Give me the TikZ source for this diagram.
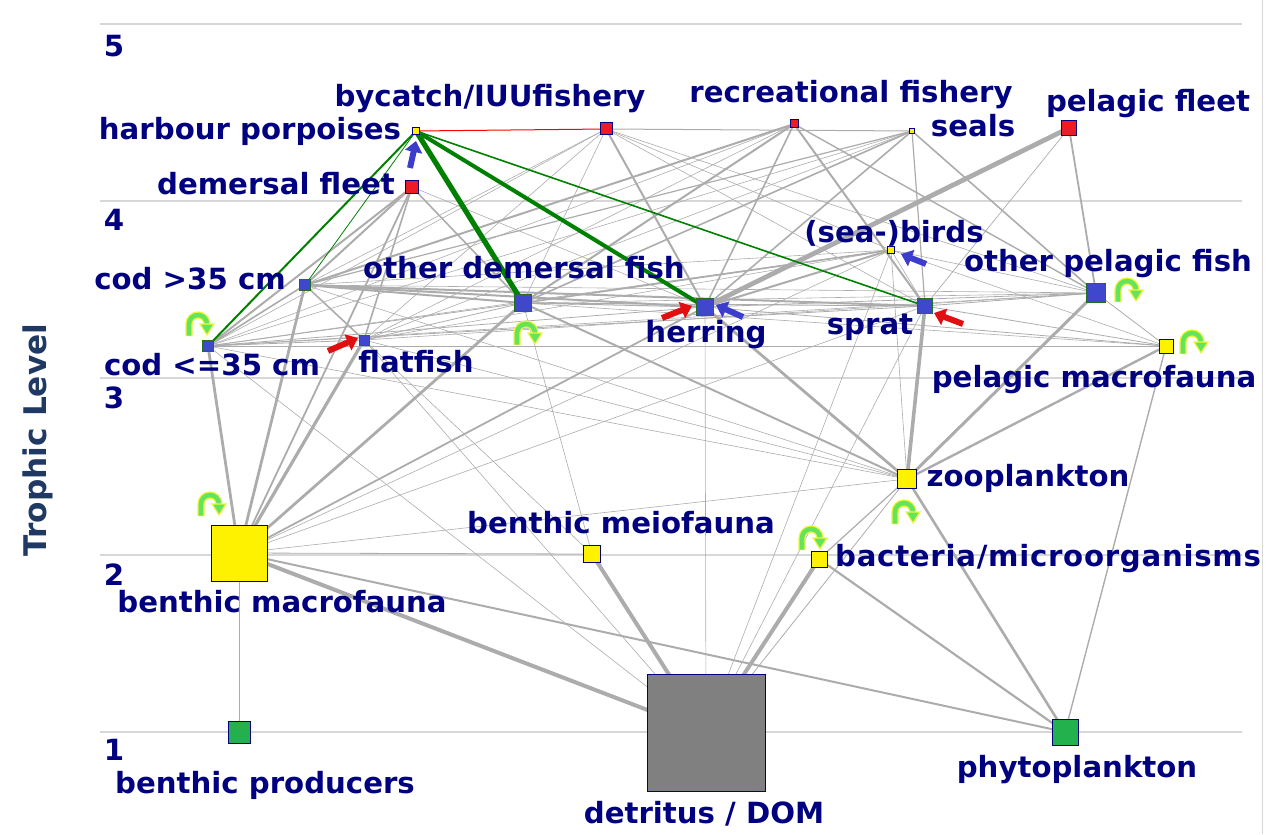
\documentclass[tikz,border=0pt]{standalone}
\usepackage{fontspec}
\setmainfont{DejaVu Sans}
\usetikzlibrary{arrows.meta}
\definecolor{navy}{RGB}{0,0,128}
\definecolor{axisblue}{RGB}{31,56,100}
\definecolor{fishblue}{RGB}{63,72,204}
\definecolor{fishedge}{RGB}{34,110,34}
\definecolor{fleetred}{RGB}{237,28,36}
\definecolor{nyellow}{RGB}{255,242,0}
\definecolor{ngreen}{RGB}{34,177,76}
\definecolor{ngray}{RGB}{128,128,128}
\definecolor{edgegray}{RGB}{172,172,172}
\definecolor{gridgray}{RGB}{215,215,215}
\definecolor{webgreen}{RGB}{0,128,0}
\definecolor{loopgreen}{RGB}{100,228,90}
\definecolor{loopyellow}{RGB}{238,245,60}
\definecolor{arrowblue}{RGB}{60,60,205}
\definecolor{arrowred}{RGB}{225,15,15}
\pgfdeclarelayer{bg}
\pgfsetlayers{bg,main}
\tikzset{
  sq/.style={draw=navy, fill=#1, line width=0.5pt, inner sep=0pt, shape=rectangle},
  fish/.style={draw=fishedge, fill=fishblue, line width=0.5pt, inner sep=0pt, shape=rectangle},
  lab/.style={text=navy, font=\bfseries\fontsize{14.6}{16}\selectfont, inner sep=0pt, anchor=mid},
  lvl/.style={text=navy, font=\bfseries\fontsize{14.6}{16}\selectfont, inner sep=0pt},
  gridline/.style={draw=gridgray, line width=0.6pt},
  web/.style={draw=edgegray},
  greenedge/.style={draw=webgreen},
  barrow/.style={draw=arrowblue, line width=3pt, -{Triangle[length=5.5pt,width=8.5pt]}},
  rarrow/.style={draw=arrowred, line width=3pt, -{Triangle[length=5.5pt,width=8.5pt]}},
  selfloop/.pic={
    \draw[loopyellow, line width=3.6pt] (-11,13) -- (-11,1) arc[start angle=180,end angle=360,radius=9];
    \draw[loopgreen, line width=2.3pt] (-11,12.5) -- (-11,1) arc[start angle=180,end angle=360,radius=9];
    \filldraw[fill=loopgreen, draw=loopyellow, line width=0.6pt] (0,1) -- (14,1) -- (7,12) -- cycle;
  }
}
\begin{document}
\begin{tikzpicture}[x=0.5pt,y=-0.5pt]
\useasboundingbox (0,0) rectangle (1272,834);

% ---------- nodes ----------
\node[sq=nyellow, minimum size=3.5pt] (hp) at (416,131) {};
\node[sq=fleetred, minimum size=6pt] (by) at (606,129) {};
\node[sq=fleetred, minimum size=4pt] (rf) at (794,124) {};
\node[sq=nyellow, minimum size=2.5pt] (se) at (912,131) {};
\node[sq=fleetred, minimum size=7.5pt] (pf) at (1069,128) {};
\node[sq=fleetred, minimum size=6.5pt] (df) at (412,187) {};
\node[sq=nyellow, minimum size=3.5pt] (bi) at (891,250) {};
\node[fish, minimum size=9.5pt] (opf) at (1096,293) {};
\node[fish, minimum size=5.5pt] (cb) at (305,285) {};
\node[fish, minimum size=8.5pt] (odf) at (523,303) {};
\node[fish, minimum size=8.5pt] (he) at (705,307) {};
\node[fish, minimum size=7.5pt] (sp) at (925,306) {};
\node[fish, minimum size=5.5pt] (cs) at (208,346) {};
\node[fish, minimum size=5pt] (ff) at (364,340) {};
\node[sq=nyellow, minimum size=7pt] (pm) at (1166,346) {};
\node[sq=nyellow, minimum size=9.5pt] (zo) at (907,479) {};
\node[sq=nyellow, minimum size=28pt] (bm) at (239,553) {};
\node[sq=nyellow, minimum size=8.5pt] (me) at (592,554) {};
\node[sq=nyellow, minimum size=8pt] (ba) at (819,559) {};
\node[sq=ngreen, minimum size=11pt] (bp) at (239,732) {};
\node[sq=ngray, minimum width=59pt, minimum height=58.5pt] (de) at (706,732.5) {};
\node[sq=ngreen, minimum size=13pt] (ph) at (1065,732) {};

% ---------- grid, edges ----------
\begin{pgfonlayer}{bg}
\coordinate (gl5) at (100,24);  \coordinate (gr5) at (1242,24);
\coordinate (gl4) at (100,201); \coordinate (gr4) at (1242,201);
\coordinate (gl3) at (100,378); \coordinate (gr3) at (1242,378);
\coordinate (gl2) at (100,555); \coordinate (gr2) at (1242,555);
\coordinate (gl1) at (100,732); \coordinate (gr1) at (1242,732);
\foreach \i in {1,...,5} {\draw[gridline] (gl\i) -- (gr\i);}
\coordinate (vt) at (1262,0); \coordinate (vb) at (1262,834);
\draw[gridline, line width=0.5pt] (vt) -- (vb);

\foreach \a/\b/\w in {
  by/cs/0.3pt, by/cb/0.3pt, by/ff/0.3pt, by/odf/0.3pt, by/he/1pt, by/sp/0.3pt, by/opf/0.3pt, by/se/0.5pt, by/bi/0.3pt,
  rf/cb/1pt, rf/cs/0.3pt, rf/ff/0.3pt, rf/odf/1pt, rf/he/0.8pt, rf/sp/1pt, rf/opf/0.7pt,
  se/cb/0.6pt, se/cs/0.3pt, se/ff/0.3pt, se/odf/0.8pt, se/he/0.8pt, se/sp/0.6pt, se/opf/0.8pt,
  pf/he/2.4pt, pf/sp/0.35pt, pf/opf/0.9pt,
  df/cs/1pt, df/cb/1pt, df/ff/0.8pt, df/odf/0.8pt, df/bm/0.9pt, df/he/0.3pt,
  bi/cs/0.3pt, bi/cb/0.3pt, bi/odf/0.8pt, bi/he/1pt, bi/sp/0.3pt, bi/opf/0.3pt, bi/zo/0.3pt, bi/bm/0.3pt, bi/pm/0.3pt, bi/ff/0.3pt,
  opf/he/0.4pt, opf/sp/0.4pt, opf/zo/1.5pt, opf/pm/0.4pt, opf/odf/0.3pt, opf/cs/0.3pt, opf/ff/0.3pt, opf/cb/0.3pt,
  cb/cs/0.8pt, cb/ff/0.8pt, cb/he/1pt, cb/sp/1pt, cb/odf/1pt, cb/bm/1.4pt, cb/zo/0.3pt,
  odf/bm/1.4pt, odf/cs/0.4pt, odf/ff/0.4pt, odf/he/0.5pt, odf/sp/0.5pt, odf/zo/1pt, odf/me/0.3pt, odf/pm/0.3pt,
  he/zo/1.4pt, he/pm/0.4pt, he/bm/0.9pt, he/de/0.3pt,
  sp/zo/1.8pt, sp/pm/0.4pt, sp/de/0.3pt, sp/bm/0.3pt,
  cs/bm/1.4pt, cs/ff/0.4pt, cs/he/0.4pt, cs/sp/0.4pt, cs/zo/0.3pt, cs/de/0.3pt, cs/pm/0.3pt,
  ff/bm/1.6pt, ff/me/0.3pt, ff/de/0.3pt, ff/zo/0.3pt,
  pm/zo/1.2pt, pm/ph/0.7pt,
  zo/ph/1.3pt, zo/ba/0.6pt, zo/de/0.4pt, zo/bm/0.3pt,
  bm/de/2pt, bm/ph/1pt, bm/bp/0.35pt, bm/me/0.4pt,
  me/de/2pt, ba/de/2pt, ba/ph/1.1pt, bi/de/0.3pt}
  {\draw[web, line width=\w] (\a.center) -- (\b.center);}

\draw[greenedge, line width=1pt] (hp.center) -- (cs.center);
\draw[greenedge, line width=0.4pt] (hp.center) -- (cb.center);
\draw[greenedge, line width=2.6pt] (hp.center) -- (odf.center);
\draw[greenedge, line width=2pt] (hp.center) -- (he.center);
\draw[greenedge, line width=0.8pt] (hp.center) -- (sp.center);
\draw[red, line width=0.5pt] (hp.center) -- (by.center);
\end{pgfonlayer}

% ---------- level numbers and axis label ----------
\node[lvl] (n5) at (114,46) {5};
\node[lvl] (n4) at (114,220) {4};
\node[lvl] (n3) at (114,398) {3};
\node[lvl] (n2) at (114,575) {2};
\node[lvl] (n1) at (114,750) {1};
\node[text=axisblue, font=\bfseries\fontsize{15.6}{17}\selectfont, rotate=90, inner sep=0pt] (ax) at (38,440) {Trophic Level};

% ---------- labels ----------
\node[lab] (lby) at (490,101) {bycatch/IUUfishery};
\node[lab] (lhp) at (250,134) {harbour porpoises};
\node[lab] (lrf) at (851,97) {recreational fishery};
\node[lab] (lse) at (973,131) {seals};
\node[lab] (lpf) at (1148,106) {pelagic fleet};
\node[lab] (ldf) at (276,189) {demersal fleet};
\node[lab] (lbi) at (894,237) {(sea-)birds};
\node[lab] (lopf) at (1108,266) {other pelagic fish};
\node[lab] (lcb) at (190,284) {cod >35 cm};
\node[lab] (lodf) at (524,273) {other demersal fish};
\node[lab] (lhe) at (706,337) {herring};
\node[lab] (lsp) at (870,329) {sprat};
\node[lab] (lcs) at (212,370) {cod <=35 cm};
\node[lab] (lff) at (416,367) {flatfish};
\node[lab] (lpm) at (1094,382) {pelagic macrofauna};
\node[lab] (lzo) at (1028,481) {zooplankton};
\node[lab] (lme) at (621,528) {benthic meiofauna};
\node[lab] (lba) at (1048,561) {\addfontfeature{LetterSpace=2.5}bacteria/microorganisms};
\node[lab] (lbm) at (282,607) {benthic macrofauna};
\node[lab] (lbp) at (265,788) {benthic producers};
\node[lab] (lph) at (1077,772) {phytoplankton};
\node[lab] (lde) at (704,818) {detritus / DOM};

% ---------- self loops ----------
\pic at (200,323) {selfloop};
\pic at (528,332) {selfloop};
\pic at (1129,289) {selfloop};
\pic at (1194,341) {selfloop};
\pic at (906,511) {selfloop};
\pic at (813,537) {selfloop};
\pic at (212,503) {selfloop};

% ---------- indicator arrows ----------
\coordinate (ba1) at (410,168); \coordinate (ba2) at (416,141);
\coordinate (bb1) at (743,317); \coordinate (bb2) at (716,305);
\coordinate (bc1) at (926,264); \coordinate (bc2) at (901,254);
\coordinate (ra1) at (328,351); \coordinate (ra2) at (358,338);
\coordinate (rb1) at (662,318); \coordinate (rb2) at (692,306);
\coordinate (rc1) at (963,324); \coordinate (rc2) at (934,313);
\draw[barrow] (ba1) -- (ba2);
\draw[barrow] (bb1) -- (bb2);
\draw[barrow] (bc1) -- (bc2);
\draw[rarrow] (ra1) -- (ra2);
\draw[rarrow] (rb1) -- (rb2);
\draw[rarrow] (rc1) -- (rc2);
\end{tikzpicture}
\end{document}
